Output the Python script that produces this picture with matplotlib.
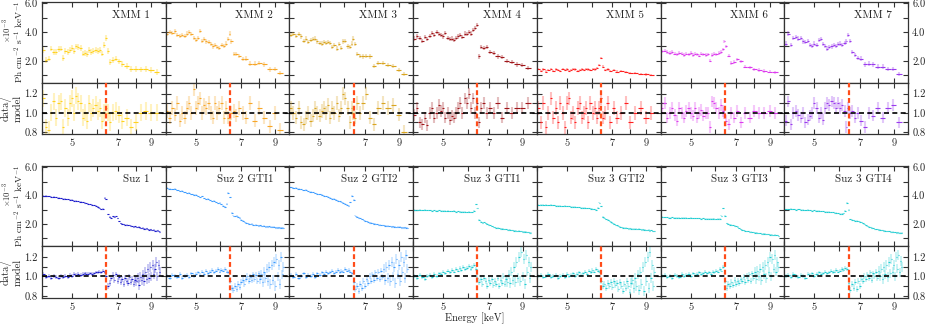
import numpy as np
import matplotlib
matplotlib.use('Agg')
import matplotlib.pyplot as plt
from matplotlib.ticker import FixedLocator, FixedFormatter, NullLocator, NullFormatter

plt.rcParams['font.family'] = 'serif'
plt.rcParams['font.serif'] = ['cmr10']
plt.rcParams['mathtext.fontset'] = 'cm'
plt.rcParams['axes.formatter.use_mathtext'] = True

# ---- energy grids (keV) ----
xmm_edges = [4.00, 4.08, 4.16, 4.24, 4.32, 4.40, 4.48, 4.56, 4.64, 4.72,
             4.80, 4.88, 4.96, 5.04, 5.12, 5.20, 5.28, 5.36, 5.45, 5.54,
             5.63, 5.72, 5.81, 5.90, 6.00, 6.10, 6.20, 6.30, 6.38, 6.46,
             6.56, 6.68, 6.82, 6.98, 7.16, 7.36, 7.60, 7.86, 8.14, 8.46,
             8.80, 9.15, 9.55]

suz_energy = [4.04, 4.12, 4.20, 4.28, 4.36, 4.44, 4.52, 4.60, 4.68, 4.76,
              4.84, 4.92, 5.00, 5.08, 5.16, 5.24, 5.32, 5.40, 5.48, 5.56,
              5.64, 5.72, 5.80, 5.88, 5.96, 6.04, 6.12, 6.20, 6.28, 6.36,
              6.44, 6.52, 6.60, 6.68, 6.76, 6.84, 6.92, 7.00, 7.08, 7.16,
              7.24, 7.32, 7.40, 7.48, 7.56, 7.64, 7.72, 7.80, 7.88, 7.96,
              8.04, 8.12, 8.20, 8.28, 8.36, 8.44, 8.52, 8.60, 8.68, 8.76,
              8.84, 8.92, 9.00, 9.08, 9.16, 9.24, 9.32, 9.40, 9.48, 9.56]
suz_halfwidth = 0.04

# ---- XMM spectra (x 1e-3 Ph cm^-2 s^-1 keV^-1) ----
xmm1 = [2.75, 2.05, 2.15, 2.85, 2.60, 2.60, 2.80, 2.85, 2.20, 2.70,
        2.60, 2.75, 2.90, 2.70, 3.00, 2.95, 2.90, 2.50, 2.55, 2.45,
        2.75, 2.60, 2.70, 2.75, 2.70, 2.75, 2.50, 3.10, 3.60, 2.70,
        1.90, 2.05, 2.15, 1.95, 1.80, 1.65, 1.45, 1.45, 1.40, 1.45,
        1.35, 1.20]
xmm2 = [3.85, 4.00, 3.95, 4.05, 3.80, 3.75, 3.80, 3.75, 3.90, 4.00,
        3.85, 3.60, 3.45, 3.60, 4.10, 3.40, 3.50, 3.35, 3.30, 3.15,
        3.00, 3.10, 2.95, 2.90, 3.10, 3.05, 3.20, 3.50, 3.90, 3.35,
        2.45, 2.45, 2.35, 2.10, 2.15, 1.80, 1.80, 1.85, 1.75, 1.40,
        1.45, 1.15]
xmm3 = [3.80, 3.85, 3.75, 3.85, 3.70, 3.40, 3.55, 3.30, 3.45, 3.50,
        3.55, 3.35, 3.25, 3.20, 3.30, 3.25, 3.30, 3.25, 2.95, 3.10,
        2.85, 3.15, 2.90, 3.35, 3.40, 3.00, 2.95, 3.20, 3.55, 3.15,
        2.45, 2.35, 2.30, 2.35, 2.30, 1.65, 1.85, 1.85, 1.70, 1.65,
        1.35, 1.10]
xmm4 = [3.55, 3.70, 3.60, 3.40, 3.65, 3.50, 3.75, 3.95, 3.80, 4.00,
        3.85, 3.80, 3.70, 3.95, 3.60, 3.50, 3.55, 3.45, 3.60, 3.70,
        3.80, 3.65, 3.90, 3.85, 4.00, 3.90, 4.15, 4.30, 4.50, 2.30,
        2.95, 2.90, 2.95, 2.60, 2.55, 2.30, 2.25, 2.00, 1.90, 1.75,
        1.70, 1.50]
xmm5 = [1.45, 1.30, 1.40, 1.25, 1.35, 1.45, 1.30, 1.40, 1.35, 1.30,
        1.45, 1.35, 1.40, 1.30, 1.35, 1.45, 1.40, 1.30, 1.35, 1.40,
        1.35, 1.45, 1.40, 1.35, 1.45, 1.40, 1.50, 1.70, 2.20, 1.60,
        1.35, 1.40, 1.30, 1.35, 1.25, 1.30, 1.20, 1.15, 1.15, 1.10,
        1.05, 1.00]
xmm6 = [2.65, 2.70, 2.60, 2.55, 2.60, 2.50, 2.45, 2.55, 2.50, 2.40,
        2.50, 2.45, 2.55, 2.40, 2.50, 2.45, 2.35, 2.50, 2.45, 2.40,
        2.45, 2.00, 2.40, 2.50, 2.45, 2.55, 2.60, 2.80, 3.35, 3.00,
        2.35, 1.85, 1.90, 2.10, 1.95, 1.60, 1.55, 1.40, 1.35, 1.30,
        1.25, 1.20]
xmm7 = [3.20, 3.90, 3.10, 3.60, 3.65, 3.55, 3.60, 3.35, 3.30, 3.40,
        3.10, 3.05, 3.20, 3.10, 3.45, 3.50, 3.15, 3.05, 2.85, 2.95,
        3.00, 3.10, 3.05, 3.15, 3.20, 3.10, 3.25, 3.35, 3.80, 3.40,
        2.60, 2.40, 2.20, 2.15, 1.75, 1.80, 1.75, 1.60, 1.60, 1.45,
        1.45, 1.10]

# ---- XMM data/model ----
xmm1_r = [1.15, 0.85, 0.82, 1.00, 1.12, 0.95, 1.10, 1.12, 0.85, 1.05,
          0.95, 1.10, 1.15, 1.00, 1.18, 1.12, 1.10, 0.95, 1.00, 0.92,
          1.10, 1.00, 1.05, 1.08, 1.02, 1.05, 0.92, 1.00, 1.05, 1.00,
          0.90, 1.00, 1.02, 0.98, 0.92, 0.95, 0.85, 0.90, 1.00, 1.02,
          1.00, 1.00]
xmm2_r = [1.02, 0.95, 1.05, 0.98, 1.10, 0.92, 1.00, 0.95, 1.05, 1.10,
          1.00, 1.25, 1.05, 1.10, 1.15, 1.00, 1.08, 1.05, 1.10, 1.00,
          0.95, 1.10, 1.00, 1.05, 1.10, 0.95, 1.05, 0.95, 0.92, 1.00,
          1.02, 0.97, 1.05, 1.00, 0.95, 1.10, 0.92, 1.05, 0.95, 0.86,
          1.00, 0.82]
xmm3_r = [1.05, 1.00, 0.95, 1.05, 0.90, 0.88, 0.95, 1.00, 0.92, 0.97,
          1.05, 1.00, 0.97, 1.02, 1.05, 1.00, 1.08, 0.95, 1.05, 1.00,
          1.10, 0.97, 1.05, 1.20, 1.15, 1.05, 0.90, 1.05, 1.00, 0.95,
          1.10, 1.00, 1.10, 1.20, 0.95, 0.88, 1.05, 1.10, 1.05, 1.08,
          0.98, 0.80]
xmm4_r = [0.98, 1.05, 0.90, 0.88, 0.95, 0.87, 1.00, 1.05, 0.95, 1.00,
          1.08, 1.02, 1.05, 0.95, 1.00, 0.93, 0.97, 0.95, 1.00, 1.05,
          1.10, 1.00, 1.15, 1.10, 1.20, 1.05, 1.15, 1.00, 1.10, 0.90,
          1.05, 1.10, 1.00, 1.05, 1.00, 1.10, 0.95, 1.05, 1.00, 1.05,
          1.05, 1.10]
xmm5_r = [1.05, 0.90, 1.10, 0.85, 1.00, 1.15, 0.95, 1.05, 0.90, 1.10,
          1.00, 0.85, 1.10, 1.15, 0.95, 1.00, 0.90, 1.05, 1.10, 0.95,
          1.00, 1.05, 0.90, 1.10, 1.00, 1.05, 0.95, 1.05, 1.15, 0.95,
          1.00, 1.10, 0.90, 1.05, 0.95, 1.00, 1.10, 0.90, 1.00, 1.05,
          0.95, 1.00]
xmm6_r = [1.05, 1.10, 0.95, 1.00, 1.05, 0.98, 0.92, 1.05, 1.00, 0.95,
          1.02, 1.05, 1.00, 0.97, 1.05, 0.95, 1.00, 1.03, 0.97, 1.00,
          1.00, 0.85, 1.12, 1.10, 1.05, 1.00, 1.08, 1.02, 1.00, 0.92,
          0.88, 1.00, 0.95, 1.02, 0.90, 1.00, 0.95, 1.02, 1.00, 1.00,
          1.02, 1.00]
xmm7_r = [0.92, 1.12, 0.88, 1.00, 1.02, 0.98, 0.95, 1.00, 0.90, 0.93,
          0.97, 1.00, 1.10, 1.05, 0.95, 1.00, 0.93, 1.05, 1.10, 1.08,
          1.12, 1.10, 1.05, 1.10, 1.05, 1.08, 1.02, 0.85, 1.05, 1.00,
          1.02, 0.95, 1.00, 0.92, 0.85, 1.00, 0.97, 1.05, 0.95, 1.05,
          1.08, 0.90]
xmm_spec_err = [0.20, 0.15, 0.15, 0.15, 0.08, 0.12, 0.15]
xmm_ratio_err = [0.09, 0.07, 0.07, 0.06, 0.07, 0.06, 0.06]

# ---- Suzaku spectra ----
suz1 = [4.00, 3.98, 3.97, 3.93, 3.92, 3.88, 3.86, 3.83, 3.80, 3.79,
        3.75, 3.72, 3.70, 3.66, 3.64, 3.60, 3.57, 3.55, 3.50, 3.48,
        3.43, 3.40, 3.36, 3.33, 3.28, 3.20, 3.10, 3.05, 3.08, 3.85,
        3.75, 2.70, 2.50, 2.45, 2.55, 2.50, 2.55, 2.42, 2.20, 2.05,
        2.00, 1.98, 1.96, 1.95, 1.90, 1.92, 1.88, 1.85, 1.80, 1.83,
        1.78, 1.76, 1.80, 1.72, 1.70, 1.74, 1.68, 1.65, 1.70, 1.62,
        1.60, 1.64, 1.58, 1.55, 1.60, 1.52, 1.50, 1.55, 1.48, 1.45]
suz2a = [4.55, 4.50, 4.45, 4.48, 4.40, 4.30, 4.35, 4.25, 4.18, 4.22,
         4.10, 4.05, 4.08, 3.95, 3.90, 3.95, 3.82, 3.75, 3.80, 3.68,
         3.62, 3.66, 3.55, 3.48, 3.50, 3.40, 3.30, 3.20, 3.45, 4.20,
         3.90, 2.80, 2.60, 2.55, 2.60, 2.50, 2.45, 2.30, 2.25, 2.15,
         2.10, 2.05, 2.00, 1.98, 2.02, 1.95, 1.92, 1.96, 1.90, 1.88,
         1.92, 1.86, 1.85, 1.88, 1.82, 1.84, 1.80, 1.83, 1.78, 1.80,
         1.76, 1.79, 1.75, 1.78, 1.72, 1.76, 1.73, 1.75, 1.72, 1.74]
suz2b = [4.60, 4.55, 4.58, 4.48, 4.45, 4.40, 4.42, 4.32, 4.28, 4.25,
         4.18, 4.15, 4.10, 4.05, 4.00, 3.95, 3.92, 3.85, 3.80, 3.78,
         3.70, 3.65, 3.60, 3.55, 3.50, 3.45, 3.38, 3.30, 3.55, 4.00,
         3.70, 2.60, 2.50, 2.45, 2.40, 2.35, 2.30, 2.25, 2.20, 2.15,
         2.10, 2.08, 2.05, 2.00, 2.02, 1.98, 1.95, 1.96, 1.92, 1.90,
         1.92, 1.88, 1.86, 1.88, 1.84, 1.85, 1.82, 1.84, 1.80, 1.82,
         1.78, 1.80, 1.77, 1.79, 1.75, 1.78, 1.74, 1.76, 1.73, 1.75]
suz3a = [3.00, 2.98, 3.01, 2.97, 2.99, 2.96, 2.98, 2.95, 2.97, 2.94,
         2.96, 2.93, 2.95, 2.92, 2.94, 2.91, 2.90, 2.92, 2.88, 2.90,
         2.86, 2.88, 2.85, 2.87, 2.83, 2.85, 2.82, 2.84, 2.95, 3.40,
         3.10, 2.30, 2.15, 2.10, 2.12, 2.05, 2.00, 1.95, 1.90, 1.85,
         1.80, 1.78, 1.75, 1.72, 1.70, 1.68, 1.66, 1.65, 1.63, 1.62,
         1.60, 1.58, 1.59, 1.56, 1.55, 1.54, 1.52, 1.53, 1.50, 1.51,
         1.48, 1.49, 1.46, 1.47, 1.44, 1.45, 1.42, 1.43, 1.40, 1.38]
suz3b = [3.38, 3.36, 3.38, 3.35, 3.33, 3.35, 3.32, 3.30, 3.31, 3.28,
         3.27, 3.28, 3.25, 3.24, 3.22, 3.23, 3.20, 3.18, 3.19, 3.16,
         3.15, 3.13, 3.12, 3.10, 3.08, 3.06, 3.04, 3.00, 3.15, 3.50,
         3.25, 2.50, 2.40, 2.35, 2.30, 2.25, 2.15, 2.05, 2.00, 1.95,
         1.90, 1.85, 1.82, 1.78, 1.75, 1.74, 1.72, 1.70, 1.68, 1.70,
         1.67, 1.66, 1.68, 1.64, 1.66, 1.63, 1.65, 1.62, 1.60, 1.63,
         1.58, 1.60, 1.57, 1.55, 1.58, 1.53, 1.55, 1.52, 1.50, 1.48]
suz3c = [2.50, 2.48, 2.49, 2.46, 2.47, 2.45, 2.46, 2.44, 2.45, 2.43,
         2.44, 2.42, 2.43, 2.41, 2.42, 2.40, 2.41, 2.39, 2.40, 2.38,
         2.39, 2.37, 2.38, 2.36, 2.37, 2.35, 2.36, 2.38, 2.60, 3.10,
         2.60, 2.05, 2.00, 1.95, 1.93, 1.90, 1.88, 1.85, 1.80, 1.70,
         1.62, 1.58, 1.55, 1.52, 1.50, 1.48, 1.46, 1.45, 1.43, 1.42,
         1.40, 1.38, 1.37, 1.36, 1.34, 1.33, 1.32, 1.30, 1.31, 1.28,
         1.27, 1.28, 1.25, 1.24, 1.25, 1.22, 1.23, 1.20, 1.21, 1.18]
suz3d = [3.05, 3.04, 3.06, 3.03, 3.02, 3.04, 3.01, 3.00, 2.98, 2.99,
         2.96, 2.95, 2.96, 2.93, 2.92, 2.90, 2.91, 2.88, 2.86, 2.87,
         2.84, 2.82, 2.80, 2.78, 2.76, 2.74, 2.72, 2.75, 2.95, 3.50,
         3.00, 2.35, 2.30, 2.28, 2.25, 2.22, 2.20, 2.18, 2.12, 2.05,
         1.98, 1.92, 1.85, 1.80, 1.76, 1.72, 1.70, 1.66, 1.64, 1.62,
         1.60, 1.58, 1.56, 1.55, 1.53, 1.52, 1.50, 1.49, 1.48, 1.46,
         1.45, 1.44, 1.43, 1.42, 1.40, 1.41, 1.38, 1.39, 1.36, 1.37]

# ---- Suzaku data/model ----
suz1_r = [1.02, 0.99, 1.00, 0.98, 1.00, 0.99, 0.98, 1.00, 0.99, 1.00,
          0.99, 1.01, 1.00, 1.02, 1.01, 1.02, 1.01, 1.02, 1.03, 1.02,
          1.02, 1.03, 1.02, 1.03, 1.04, 1.04, 1.05, 1.04, 1.06, 1.04,
          1.00, 0.90, 0.93, 0.98, 1.01, 0.96, 1.02, 0.95, 0.99, 0.94,
          0.97, 0.92, 0.98, 0.95, 0.93, 0.99, 0.94, 0.97, 0.92, 0.96,
          0.95, 0.98, 0.91, 0.99, 0.96, 1.02, 0.95, 1.05, 0.97, 1.08,
          0.98, 1.10, 1.00, 1.12, 1.02, 1.08, 1.15, 1.00, 1.12, 1.05]
suz2a_r = [1.00, 0.98, 1.01, 1.00, 0.99, 1.02, 0.98, 1.00, 1.01, 0.99,
           1.03, 1.00, 1.02, 1.04, 1.01, 1.05, 1.02, 1.06, 1.03, 1.05,
           1.07, 1.04, 1.06, 1.08, 1.05, 1.07, 1.06, 1.08, 1.05, 1.04,
           0.95, 0.88, 0.86, 0.90, 0.87, 0.92, 0.89, 0.94, 0.96, 0.92,
           0.97, 1.00, 0.95, 0.99, 0.96, 1.02, 0.97, 1.01, 0.95, 1.03,
           0.97, 1.02, 0.94, 1.05, 0.98, 1.08, 0.95, 1.10, 0.92, 1.12,
           0.96, 1.15, 0.90, 1.18, 1.00, 1.12, 0.92, 1.20, 1.02, 1.10]
suz2b_r = [1.01, 0.99, 1.02, 0.98, 1.00, 1.03, 0.99, 1.01, 1.00, 1.02,
           0.99, 1.03, 1.01, 1.04, 1.02, 1.05, 1.03, 1.04, 1.06, 1.03,
           1.05, 1.07, 1.04, 1.06, 1.05, 1.08, 1.06, 1.07, 1.05, 1.03,
           0.94, 0.87, 0.90, 0.85, 0.92, 0.88, 0.95, 0.90, 0.97, 0.93,
           1.00, 0.95, 1.02, 0.96, 1.04, 0.98, 1.05, 0.97, 1.06, 0.99,
           1.08, 0.96, 1.10, 0.98, 1.12, 0.95, 1.15, 1.00, 1.10, 0.93,
           1.18, 1.02, 1.12, 0.95, 1.20, 1.05, 1.15, 0.98, 1.22, 1.08]
suz3a_r = [1.00, 0.98, 1.01, 0.99, 0.97, 1.00, 1.01, 0.99, 1.02, 1.00,
           1.03, 1.02, 1.05, 1.03, 1.06, 1.04, 1.07, 1.05, 1.08, 1.06,
           1.09, 1.07, 1.10, 1.08, 1.09, 1.11, 1.08, 1.10, 1.12, 1.08,
           0.98, 0.94, 0.97, 0.92, 0.98, 0.95, 0.90, 0.96, 0.93, 0.97,
           0.91, 0.95, 0.92, 0.98, 0.90, 0.96, 0.93, 1.00, 0.92, 0.97,
           0.94, 1.02, 0.93, 1.05, 0.96, 1.10, 0.94, 1.15, 0.98, 1.20,
           0.95, 1.25, 1.00, 1.18, 0.92, 1.22, 1.05, 1.15, 0.98, 1.10]
suz3b_r = [1.00, 1.01, 0.99, 1.00, 1.02, 0.99, 1.00, 1.01, 0.98, 1.00,
           1.01, 0.99, 1.02, 1.00, 1.01, 1.03, 1.00, 1.02, 1.04, 1.01,
           1.03, 1.05, 1.02, 1.06, 1.04, 1.07, 1.05, 1.08, 1.06, 1.05,
           0.95, 0.90, 0.92, 0.88, 0.93, 0.90, 0.94, 0.89, 0.95, 0.91,
           0.93, 0.87, 0.94, 0.90, 0.85, 0.92, 0.88, 0.95, 0.90, 0.84,
           0.93, 0.96, 0.88, 0.98, 0.90, 1.02, 0.86, 1.05, 0.92, 1.10,
           0.85, 1.15, 0.95, 1.20, 0.88, 1.25, 0.98, 1.12, 0.90, 1.05]
suz3c_r = [1.00, 1.01, 0.99, 1.00, 0.98, 1.01, 1.00, 0.99, 1.02, 1.00,
           1.01, 1.02, 1.00, 1.03, 1.01, 1.02, 1.04, 1.02, 1.03, 1.05,
           1.03, 1.04, 1.02, 1.05, 1.04, 1.06, 1.05, 1.08, 1.06, 1.10,
           0.95, 0.88, 0.92, 0.90, 0.94, 0.91, 0.96, 0.92, 0.95, 0.93,
           0.97, 0.95, 0.99, 0.94, 1.00, 0.96, 1.02, 0.95, 1.03, 0.98,
           1.05, 0.97, 1.06, 1.00, 1.08, 0.96, 1.10, 1.02, 1.12, 0.98,
           1.15, 1.05, 1.20, 1.00, 1.18, 1.08, 1.22, 1.05, 1.15, 1.10]
suz3d_r = [1.00, 1.01, 0.99, 1.02, 1.00, 0.99, 1.01, 1.00, 0.98, 1.02,
           1.01, 1.03, 1.00, 1.02, 1.04, 1.02, 1.03, 1.05, 1.03, 1.04,
           1.06, 1.04, 1.05, 1.07, 1.05, 1.06, 1.08, 1.07, 1.09, 1.08,
           0.93, 0.86, 0.92, 0.88, 0.94, 0.87, 0.95, 0.90, 0.97, 0.95,
           1.00, 0.97, 1.02, 0.98, 1.04, 0.96, 1.03, 1.00, 1.05, 0.98,
           1.06, 1.00, 1.08, 0.97, 1.10, 1.02, 1.12, 0.99, 1.15, 1.03,
           1.18, 1.05, 1.12, 1.00, 1.20, 1.08, 1.22, 1.04, 1.16, 1.10]
suz_spec_err = 0.04
suz_ratio_err = [0.02] * 30 + [0.03] * 20 + [0.05] * 20

xmm_labels = ['XMM 1', 'XMM 2', 'XMM 3', 'XMM 4', 'XMM 5', 'XMM 6', 'XMM 7']
suz_labels = ['Suz 1', 'Suz 2 GTI1', 'Suz 2 GTI2', 'Suz 3 GTI1',
              'Suz 3 GTI2', 'Suz 3 GTI3', 'Suz 3 GTI4']
xmm_colors = ['#FFD21F', '#F7A628', '#D9A521', '#A0161A', '#FF1F1F', '#DD3BEE', '#9A3BEE']
suz_colors = ['#1C1CCC', '#3D9CFF', '#3D9CFF', '#22CDD2', '#22CDD2', '#22CDD2', '#22CDD2']
fe_line = 6.44

xmm_spec = [xmm1, xmm2, xmm3, xmm4, xmm5, xmm6, xmm7]
xmm_ratio = [xmm1_r, xmm2_r, xmm3_r, xmm4_r, xmm5_r, xmm6_r, xmm7_r]
suz_spec = [suz1, suz2a, suz2b, suz3a, suz3b, suz3c, suz3d]
suz_ratio = [suz1_r, suz2a_r, suz2b_r, suz3a_r, suz3b_r, suz3c_r, suz3d_r]

edges = np.array(xmm_edges)
xmm_energy = (edges[:-1] + edges[1:]) / 2
xmm_halfwidth = np.diff(edges) / 2

W, H = 926, 325
fig = plt.figure(figsize=(W / 100, H / 100), dpi=100)

col_left, col_right = 42, 908
col_w = (col_right - col_left) / 7
# (top, bottom) pixel rows of the spectrum and ratio panels
groups = [((2, 83), (83, 134)), ((166, 246), (246, 298))]


def make_axes(col, top, bot):
    return fig.add_axes([(col_left + col * col_w) / W, 1 - bot / H,
                         col_w / W, (bot - top) / H])


def style(ax, col, kind):
    ax.set_xscale('log')
    ax.set_xlim(4, 10)
    ax.xaxis.set_major_locator(FixedLocator([4, 5, 6, 7, 8, 9, 10]))
    ax.xaxis.set_minor_locator(NullLocator())
    if kind == 'ratio':
        ax.xaxis.set_major_formatter(FixedFormatter(['', '5', '', '7', '', '9', '']))
        ax.set_ylim(0.78, 1.31)
        ax.yaxis.set_major_locator(FixedLocator([0.8, 0.9, 1.0, 1.1, 1.2]))
        ax.yaxis.set_major_formatter(FixedFormatter(['0.8', '', '1.0', '', '1.2']))
    else:
        ax.xaxis.set_major_formatter(NullFormatter())
        ax.set_ylim(0.45, 6.1)
        ax.yaxis.set_major_locator(FixedLocator([1, 2, 3, 4, 5, 6]))
        ax.yaxis.set_major_formatter(FixedFormatter(['', '2.0', '', '4.0', '', '6.0']))
    ax.yaxis.set_minor_locator(NullLocator())
    ax.tick_params(direction='in', top=True, right=True, length=3.5, width=0.8,
                   labelsize=7.5, pad=3, colors='#333333', labelcolor='#222222',
                   labelleft=(col == 0), labelright=(col == 6))
    for sp in ax.spines.values():
        sp.set_linewidth(0.9)
        sp.set_color('#333333')


for g, (spec_rows, ratio_rows) in enumerate(groups):
    for col in range(7):
        ax_s = make_axes(col, *spec_rows)
        ax_r = make_axes(col, *ratio_rows)
        if g == 0:
            energy, hw = xmm_energy, xmm_halfwidth
            spec, ratio = xmm_spec[col], xmm_ratio[col]
            serr, rerr = xmm_spec_err[col], xmm_ratio_err[col]
            color, label = xmm_colors[col], xmm_labels[col]
            ewidth = 1.5
        else:
            energy, hw = suz_energy, suz_halfwidth
            spec, ratio = suz_spec[col], suz_ratio[col]
            serr, rerr = suz_spec_err, suz_ratio_err
            color, label = suz_colors[col], suz_labels[col]
            ewidth = 1.2

        ax_s.errorbar(energy, spec, yerr=serr, fmt='none', ecolor=color,
                      alpha=0.3, elinewidth=ewidth)
        ax_s.errorbar(energy, spec, xerr=hw, fmt='none', ecolor=color, elinewidth=0.8)
        ax_r.errorbar(energy, ratio, yerr=rerr, fmt='none', ecolor=color,
                      alpha=0.28, elinewidth=ewidth)
        ax_r.errorbar(energy, ratio, xerr=hw, fmt='none', ecolor=color, elinewidth=0.8)
        ax_r.axhline(1.0, color='black', ls=(0, (3, 2)), lw=1.2, zorder=4)
        ax_r.axvline(fe_line, color='#FF4D1A', ls=(0, (2.2, 1.3)), lw=1.6, zorder=5)

        ax_s.text(0.87, 0.84, label, transform=ax_s.transAxes, ha='right',
                  va='center', fontsize=8, color='#222222')
        style(ax_s, col, 'spec')
        style(ax_r, col, 'ratio')

# axis labels
for mult_px, lab_px in ((30, 42), (194, 206)):
    fig.text(7 / W, 1 - mult_px / H, '$\\times10^{-3}$', rotation=90, ha='center',
             va='center', fontsize=6.2, color='#222222')
    fig.text(19.5 / W, 1 - lab_px / H, 'Ph cm$^{-2}$ s$^{-1}$ keV$^{-1}$', rotation=90,
             ha='center', va='center', fontsize=6.8, color='#222222')
for mid_px in (108, 272):
    fig.text(12 / W, 1 - mid_px / H, 'data/\nmodel', rotation=90, ha='center',
             va='center', fontsize=7.5, color='#222222', linespacing=1.2)
fig.text(475 / W, 1 - 318 / H, 'Energy [keV]', ha='center', va='center',
         fontsize=7.5, color='#222222')

fig.savefig('out.png', dpi=100)
